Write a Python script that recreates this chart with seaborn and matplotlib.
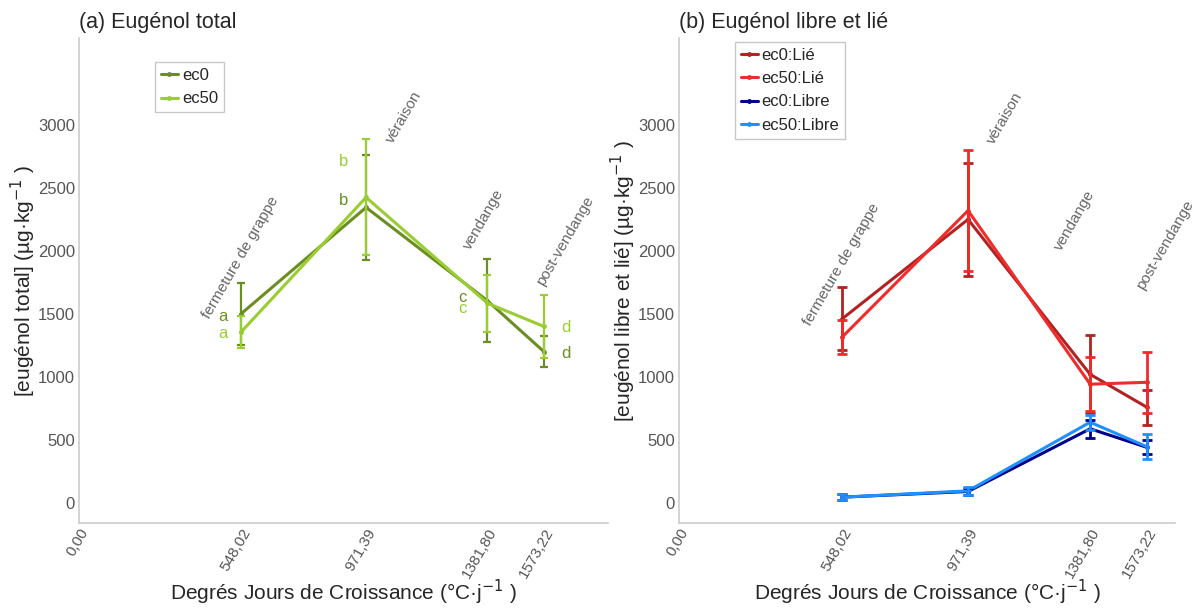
import numpy as np
import pandas as pd
import matplotlib
matplotlib.use('Agg')
import matplotlib.pyplot as plt
import seaborn as sns

# --- data ---
gdd = [548.02, 971.39, 1381.80, 1573.22]
gdd_labels = ['0,00', '548,02', '971,39', '1381,80', '1573,22']
stages = ['fermeture de grappe', 'véraison', 'vendange', 'post-vendange']

# (a) total eugenol
tot_ec0 = [1500, 2345, 1605, 1200]
tot_ec0_err = [245, 420, 330, 125]
tot_ec50 = [1355, 2425, 1585, 1400]
tot_ec50_err = [125, 460, 225, 250]
letters = ['a', 'b', 'c', 'd']

# (b) free and bound eugenol
lie_ec0 = [1460, 2250, 1020, 758]
lie_ec0_err = [250, 450, 310, 140]
lie_ec50 = [1315, 2320, 942, 957]
lie_ec50_err = [135, 480, 215, 240]
libre_ec0 = [45, 90, 588, 440]
libre_ec0_err = [25, 30, 70, 55]
libre_ec50 = [45, 95, 640, 445]
libre_ec50_err = [25, 30, 60, 100]

# --- styling ---
sns.set_style('white')
plt.rcParams['font.family'] = ['Liberation Sans', 'DejaVu Sans']
plt.rcParams['axes.linewidth'] = 1.2

green_pal = {'ec0': '#6B8E23', 'ec50': '#9ACD32'}
b_pal = {'ec0:Lié': '#B22222', 'ec50:Lié': '#EE2C2C',
         'ec0:Libre': '#00008B', 'ec50:Libre': '#1E90FF'}
tick_grey = '#555555'
spine_grey = '#CCCCCC'

fig = plt.figure(figsize=(11.94, 6.10), dpi=100)
W, H = 1194, 610
ax1 = fig.add_axes([79 / W, 1 - 523 / H, (608 - 79) / W, (523 - 38) / H])
ax2 = fig.add_axes([679 / W, 1 - 523 / H, (1175 - 679) / W, (523 - 38) / H])


def long_df(series):
    rows = []
    for name, vals in series.items():
        for x, v in zip(gdd, vals):
            rows.append({'gdd': x, 'val': v, 'grp': name})
    return pd.DataFrame(rows)


def style_axes(ax, ylabel, title, xmax):
    ax.set_xlim(0, xmax)
    ax.set_ylim(-160, 3690)
    ax.set_xticks([0] + gdd)
    ax.set_xticklabels(gdd_labels, rotation=60, ha='right', rotation_mode='anchor',
                       fontsize=11, color=tick_grey)
    ax.set_yticks([0, 500, 1000, 1500, 2000, 2500, 3000])
    ax.tick_params(axis='y', labelsize=12, labelcolor=tick_grey, length=0, pad=3)
    ax.tick_params(axis='x', length=0, pad=2)
    for s in ['top', 'right']:
        ax.spines[s].set_visible(False)
    for s in ['left', 'bottom']:
        ax.spines[s].set_color(spine_grey)
    ax.set_ylabel(ylabel, fontsize=15, labelpad=0)
    ax.set_xlabel('Degrés Jours de Croissance (°C·j$^{-1}$ )', fontsize=15)
    ax.xaxis.set_label_coords(0.5, -0.113)
    ax.set_title(title, loc='left', fontsize=15.5, pad=7)
    ax.grid(False)


def stage_labels(ax, pos):
    for txt, (x, y) in zip(stages, pos):
        ax.text(x, y, txt, rotation=60, ha='center', va='center',
                rotation_mode='anchor', fontsize=11, color='#666666')


def style_legend(ax, anchor):
    leg = ax.legend(loc='upper left', bbox_to_anchor=anchor, fontsize=12,
                    frameon=True, fancybox=False, handlelength=1.0, handletextpad=0.25,
                    borderpad=0.35, labelspacing=0.5, borderaxespad=0, title=None)
    leg.get_frame().set_edgecolor('#BBBBBB')
    leg.get_frame().set_linewidth(1.0)


# ---------- (a) ----------
dfa = long_df({'ec0': tot_ec0, 'ec50': tot_ec50})
sns.lineplot(data=dfa, x='gdd', y='val', hue='grp', palette=green_pal, ax=ax1,
             linewidth=2.2, marker='o', markersize=3.5, markeredgewidth=0,
             errorbar=None, legend=True)
for name, vals, errs in [('ec0', tot_ec0, tot_ec0_err), ('ec50', tot_ec50, tot_ec50_err)]:
    ax1.errorbar(gdd, vals, yerr=errs, fmt='none', ecolor=green_pal[name],
                 elinewidth=1.6, capsize=3, capthick=1.6)

letter_off = {'ec0': [(-13, -2), (-16, 5), (-18, 2), (16, -1)],
              'ec50': [(-13, -1), (-16, 26), (-18, -4), (16, -1)]}
for name, vals in [('ec0', tot_ec0), ('ec50', tot_ec50)]:
    for x, v, l, off in zip(gdd, vals, letters, letter_off[name]):
        ax1.annotate(l, (x, v), xytext=off, textcoords='offset points',
                     ha='center', va='center', fontsize=12, color=green_pal[name])

stage_labels(ax1, [(548, 1950), (1100, 3060), (1370, 2250), (1645, 2080)])
style_axes(ax1, '[eugénol total] (µg·kg$^{-1}$ )', '(a) Eugénol total', 1790)
style_legend(ax1, (0.144, 0.95))

# ---------- (b) ----------
dfb = long_df({'ec0:Lié': lie_ec0, 'ec50:Lié': lie_ec50,
               'ec0:Libre': libre_ec0, 'ec50:Libre': libre_ec50})
sns.lineplot(data=dfb, x='gdd', y='val', hue='grp', palette=b_pal, ax=ax2,
             linewidth=2.2, marker='o', markersize=3.5, markeredgewidth=0,
             errorbar=None, legend=True)
for name, vals, errs in [('ec0:Lié', lie_ec0, lie_ec0_err), ('ec50:Lié', lie_ec50, lie_ec50_err),
                         ('ec0:Libre', libre_ec0, libre_ec0_err),
                         ('ec50:Libre', libre_ec50, libre_ec50_err)]:
    ax2.errorbar(gdd, vals, yerr=errs, fmt='none', ecolor=b_pal[name],
                 elinewidth=2.0, capsize=3.5, capthick=2.0)

stage_labels(ax2, [(548, 1890), (1096, 3055), (1331, 2243), (1634, 2045)])
style_axes(ax2, '[eugénol libre et lié] (µg·kg$^{-1}$ )', '(b) Eugénol libre et lié', 1667)
style_legend(ax2, (0.113, 0.992))

fig.savefig('out.png', dpi=100, facecolor='white')
